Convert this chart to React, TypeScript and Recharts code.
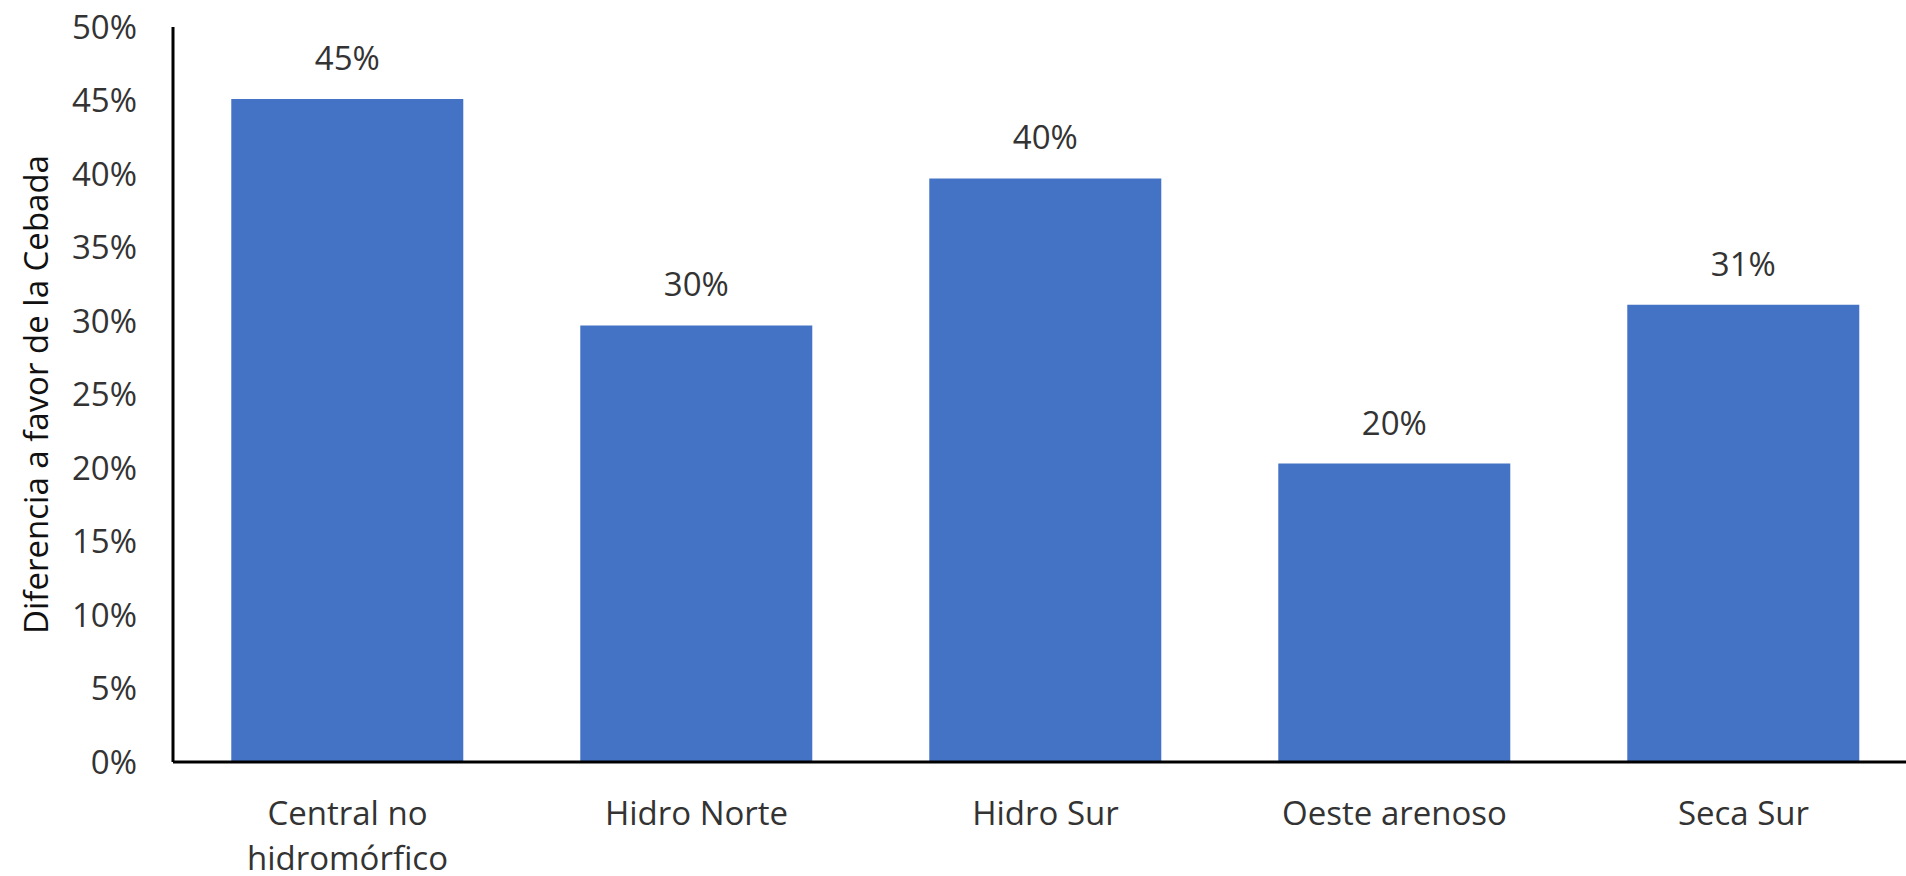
import { BarChart, Bar, XAxis, YAxis, LabelList, Label } from 'recharts';

const categories = ['Central no hidromórfico', 'Hidro Norte', 'Hidro Sur', 'Oeste arenoso', 'Seca Sur'];
const diferencia = [45.1, 29.7, 39.7, 20.3, 31.1];
const yTicks = [0, 5, 10, 15, 20, 25, 30, 35, 40, 45, 50];

const data = categories.map((name, i) => ({ name, value: diferencia[i] }));

const FONT = "'Open Sans', sans-serif";
const TEXT_COLOR = '#333333';

// break a category name into lines of at most maxChars characters
function wrapWords(label: string, maxChars: number) {
    const lines: string[] = [];
    let current = '';
    label.split(' ').forEach((word) => {
        const next = current ? current + ' ' + word : word;
        if (next.length > maxChars && current) {
            lines.push(current);
            current = word;
        } else {
            current = next;
        }
    });
    if (current) lines.push(current);
    return lines;
}

const CategoryTick = (props: any) => {
    const { x, y, payload } = props;
    const lines = wrapWords(String(payload.value), 14);
    return (
        <text x={x} y={y} textAnchor="middle" fill={TEXT_COLOR} fontSize={33} fontFamily={FONT}>
            {lines.map((line, i) => (
                <tspan key={i} x={x} dy={i === 0 ? 23 : 45}>
                    {line}
                </tspan>
            ))}
        </text>
    );
};

const App = () => {
    return (
        <div style={{ position: 'absolute', left: 0, top: 0, width: 1906, height: 876, overflow: 'hidden' }}>
            <BarChart
                width={1918}
                height={876}
                data={data}
                margin={{ top: 27, right: 0, bottom: 0, left: 0 }}
                barCategoryGap="16.7%"
            >
                <XAxis
                    dataKey="name"
                    height={114}
                    tickLine={false}
                    tickSize={0}
                    tickMargin={40}
                    axisLine={{ stroke: '#000', strokeWidth: 3 }}
                    tick={<CategoryTick />}
                    interval={0}
                />
                <YAxis
                    width={173}
                    domain={[0, 50]}
                    ticks={yTicks}
                    tickFormatter={(v: number) => `${v}%`}
                    tickLine={false}
                    tickSize={0}
                    tickMargin={36}
                    axisLine={{ stroke: '#000', strokeWidth: 3 }}
                    tick={{ fill: TEXT_COLOR, fontSize: 33, fontFamily: FONT }}
                >
                    <Label
                        value="Diferencia a favor de la Cebada"
                        angle={-90}
                        position="center"
                        dx={-50}
                        style={{ fill: '#111', fontSize: 33, fontFamily: FONT, textAnchor: 'middle' }}
                    />
                </YAxis>
                <Bar dataKey="value" fill="#4472C4" isAnimationActive={false}>
                    <LabelList
                        dataKey="value"
                        position="top"
                        offset={29}
                        formatter={(v: any) => `${Math.round(Number(v))}%`}
                        style={{ fill: TEXT_COLOR, fontSize: 33, fontFamily: FONT }}
                    />
                </Bar>
            </BarChart>
        </div>
    );
};

export default App;
